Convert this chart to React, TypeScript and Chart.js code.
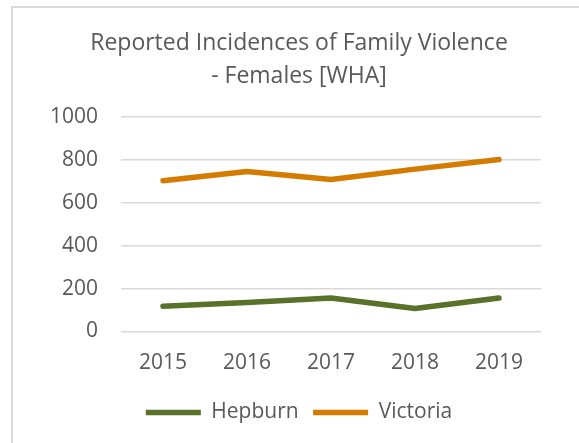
import React, { useEffect, useRef } from "react";
import { Chart, registerables } from "chart.js";

Chart.register(...registerables);

const categories = ["2015", "2016", "2017", "2018", "2019"];
const hepburnValues = [118, 135, 156, 107, 156];
const victoriaValues = [703, 746, 709, 757, 802];
const titleLines = ["Reported Incidences of Family Violence", "- Females [WHA]"];

const FONT = "'Open Sans', Lato, sans-serif";
const TEXT = "#595959";

const borderPlugin = {
  id: "frameBorder",
  afterLayout(chart: any) {
    const y = chart.scales.y;
    if (y) y.left = 30;
  },
  beforeDraw(chart: any) {
    const ctx = chart.ctx;
    ctx.save();
    ctx.fillStyle = "#ffffff";
    ctx.fillRect(0, 0, chart.width, chart.height);
    ctx.fillStyle = "#d9d9d9";
    ctx.fillRect(11, 6, chart.width - 11, 2);
    ctx.fillRect(11, 6, 2, chart.height - 6);
    ctx.restore();
  },
};

export default function App() {
  const ref = useRef<HTMLCanvasElement | null>(null);
  useEffect(() => {
    if (!ref.current) return;
    const chart = new Chart(ref.current, {
      type: "line",
      data: {
        labels: categories,
        datasets: [
          {
            label: "Hepburn",
            data: hepburnValues,
            borderColor: "#58722a",
            backgroundColor: "#58722a",
            borderWidth: 5.5,
            pointRadius: 0,
            pointStyle: "line",
            borderCapStyle: "round",
            borderJoinStyle: "round",
            tension: 0,
          },
          {
            label: "Victoria",
            data: victoriaValues,
            borderColor: "#d47c00",
            backgroundColor: "#d47c00",
            borderWidth: 5.5,
            pointRadius: 0,
            pointStyle: "line",
            borderCapStyle: "round",
            borderJoinStyle: "round",
            tension: 0,
          },
        ],
      },
      options: {
        responsive: false,
        animation: false,
        layout: { padding: { left: 57, right: 38, top: 0, bottom: 10 } },
        plugins: {
          title: {
            display: true,
            text: titleLines,
            color: TEXT,
            font: { family: FONT, size: 23, weight: "normal", lineHeight: 33 / 23 },
            padding: { top: 26.5, bottom: 24.5 },
          },
          legend: {
            position: "bottom",
            labels: {
              color: TEXT,
              font: { family: FONT, size: 21 },
              usePointStyle: true,
              pointStyleWidth: 55,
              padding: 14.5,
            },
          },
          tooltip: { enabled: false },
        },
        scales: {
          x: {
            offset: true,
            grid: { display: false },
            border: { display: false },
            ticks: { color: TEXT, font: { family: FONT, size: 21 }, padding: 11.4, maxRotation: 0 },
          },
          y: {
            min: 0,
            max: 1000,
            afterFit(scale: any) {
              scale.width = 64;
            },
            grid: { color: "#d9d9d9", lineWidth: 1.5, drawTicks: false },
            border: { display: false },
            ticks: {
              stepSize: 200,
              color: TEXT,
              font: { family: FONT, size: 21 },
              padding: 23,
              callback: (v: any) => String(v),
            },
          },
        },
      },
      plugins: [borderPlugin],
    } as any);
    return () => chart.destroy();
  }, []);
  return (
    <div style={{ position: "absolute", left: 0, top: 0, width: 579, height: 443 }}>
      <canvas ref={ref} width={579} height={443} style={{ width: 579, height: 443, display: "block" }} />
    </div>
  );
}
